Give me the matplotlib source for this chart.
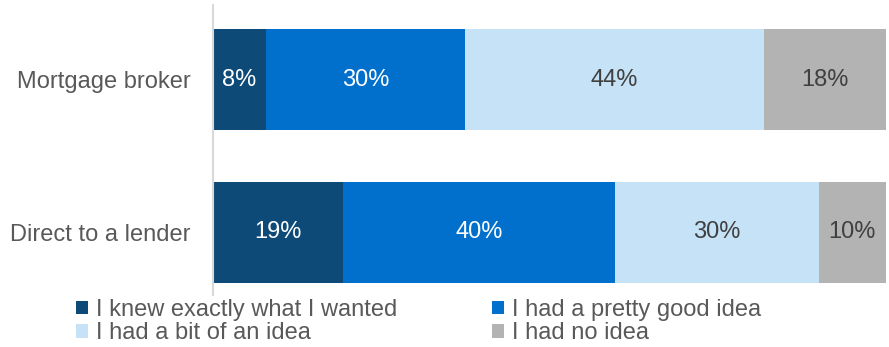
import matplotlib
matplotlib.use("Agg")
import matplotlib.pyplot as plt
import numpy as np

plt.rcParams['font.family'] = ['Liberation Sans', 'DejaVu Sans']

# --- Data ---
categories = ["Mortgage broker", "Direct to a lender"]
series = ["I knew exactly what I wanted", "I had a pretty good idea",
          "I had a bit of an idea", "I had no idea"]
knew_exactly = [7.9, 19.3]
pretty_good = [29.6, 40.4]
bit_of_idea = [44.3, 30.3]
no_idea = [18.2, 10.0]

colors = ["#0E4A78", "#0070CC", "#C5E2F7", "#B3B3B3"]
text_colors = ["white", "white", "#404040", "#404040"]

fig = plt.figure(figsize=(8.89, 3.47), dpi=100)
ax = fig.add_axes([213 / 889, 1 - 295 / 347, 673 / 889, 290 / 347])

y = np.arange(len(categories))
left = np.zeros(len(categories))
for name, vals, c, tc in zip(series, [knew_exactly, pretty_good, bit_of_idea, no_idea],
                             colors, text_colors):
    vals = np.array(vals)
    bars = ax.barh(y, vals, left=left, height=0.66, color=c, label=name)
    ax.bar_label(bars, labels=[f"{v:.0f}%" for v in vals], label_type="center",
                 color=tc, fontsize=17)
    left += vals

ax.set_xlim(0, 100)
ax.set_ylim(1.41, -0.49)
ax.set_yticks(y)
ax.set_yticklabels(categories, fontsize=17, color="#595959")
ax.tick_params(axis="y", length=0, pad=16)
ax.set_xticks([])
for s in ["top", "right", "bottom"]:
    ax.spines[s].set_visible(False)
ax.spines["left"].set_color("#D9D9D9")
ax.spines["left"].set_linewidth(1.5)

# legend order: row-wise in two columns
h, l = ax.get_legend_handles_labels()
order = [0, 2, 1, 3]
leg = fig.legend([h[i] for i in order], [l[i] for i in order], ncol=2,
                 loc="upper left", bbox_to_anchor=(76 / 889, 1 - 299 / 347),
                 frameon=False, fontsize=17, borderpad=0, borderaxespad=0,
                 handlelength=0.5, handleheight=0.5, handletextpad=0.35,
                 columnspacing=4.0, labelspacing=0.05)
for t in leg.get_texts():
    t.set_color("#595959")

fig.savefig("out.png", dpi=100)
